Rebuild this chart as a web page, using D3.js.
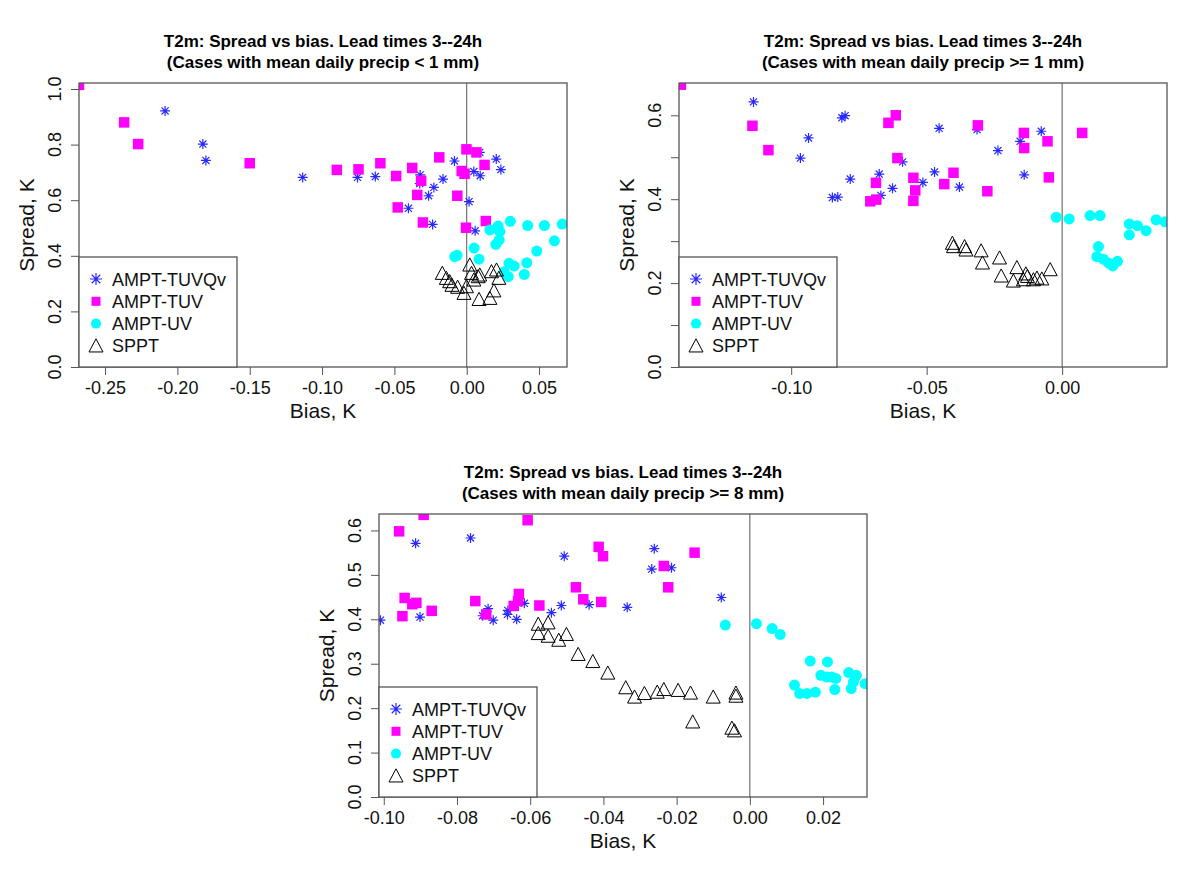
<!DOCTYPE html>
<html>
<head>
<meta charset="utf-8">
<style>
body { margin: 0; background: #fff; }
text { font-family: "Liberation Sans", Arial, sans-serif; }
</style>
</head>
<body>
<script src="https://d3js.org/d3.v7.min.js"></script>
<script>
// series names, legend order
var seriesNames = ["AMPT-TUVQv", "AMPT-TUV", "AMPT-UV", "SPPT"];

// panel 1: precip < 1 mm   [bias, spread]
var p1TUVQv = [[-0.2085,0.921],[-0.1824,0.802],[-0.1803,0.743],[-0.1134,0.682],[-0.0755,0.682],[-0.0632,0.685],
  [-0.0322,0.691],[-0.0325,0.660],[-0.0085,0.741],[-0.0164,0.676],[-0.0227,0.646],[-0.0264,0.616],[-0.0403,0.571],
  [-0.0236,0.513],[0.009,0.772],[0.0049,0.703],[0.0093,0.688],[0.0204,0.748],[0.0236,0.710],[0.0016,0.595],[0.0058,0.490]];
var p1TUV = [[-0.268,1.015],[-0.2368,0.880],[-0.2271,0.802],[-0.150,0.733],[-0.0898,0.709],[-0.0748,0.711],
  [-0.0597,0.733],[-0.0488,0.687],[-0.0377,0.716],[-0.0315,0.670],[-0.0342,0.619],[-0.0477,0.574],[-0.0303,0.520],
  [-0.0190,0.754],[-0.0065,0.616],[-0.0002,0.783],[0.0067,0.772],[-0.0035,0.705],[-0.0015,0.695],[0.0123,0.727],
  [-0.0005,0.501],[0.0132,0.525]];
var p1UV = [[-0.0083,0.397],[-0.0067,0.402],[0.0051,0.428],[0.0085,0.388],[0.016,0.493],[0.0217,0.507],[0.0229,0.487],
  [0.0224,0.457],[0.0201,0.441],[0.0301,0.524],[0.0421,0.509],[0.0537,0.509],[0.066,0.514],[0.0606,0.454],
  [0.0484,0.417],[0.0415,0.375],[0.0398,0.333],[0.0292,0.373],[0.0328,0.363],[0.0287,0.325],[0.0259,0.343]];
var p1SPPT = [[-0.0169,0.337],[-0.0141,0.319],[-0.0118,0.307],[-0.0102,0.294],[-0.0063,0.287],[-0.0019,0.265],
  [-0.0002,0.289],[0.0021,0.367],[0.0033,0.337],[0.0079,0.325],[0.009,0.331],[0.0085,0.243],[0.016,0.247],
  [0.0188,0.274],[0.0171,0.343],[0.0222,0.319],[0.0206,0.349],[0.0049,0.313]];

// panel 2: precip >= 1 mm
var p2TUVQv = [[-0.1139,0.632],[-0.0936,0.546],[-0.0966,0.498],[-0.0813,0.594],[-0.0801,0.599],[-0.0782,0.448],
  [-0.0848,0.404],[-0.0828,0.405],[-0.0675,0.460],[-0.0669,0.409],[-0.0626,0.426],[-0.0589,0.489],[-0.0454,0.569],
  [-0.0314,0.566],[-0.0237,0.516],[-0.0155,0.538],[-0.0077,0.562],[-0.0140,0.458],[-0.0471,0.465],[-0.0514,0.440],
  [-0.0379,0.429]];
var p2TUV = [[-0.1407,0.673],[-0.1143,0.575],[-0.1084,0.517],[-0.0641,0.582],[-0.0614,0.600],[-0.0608,0.498],
  [-0.0687,0.439],[-0.0708,0.395],[-0.0686,0.399],[-0.0549,0.451],[-0.0542,0.421],[-0.0549,0.396],[-0.0311,0.576],
  [-0.0141,0.558],[-0.0054,0.538],[-0.0140,0.522],[-0.0401,0.463],[-0.0435,0.436],[-0.0276,0.419],[-0.0049,0.452],
  [0.0074,0.558]];
var p2UV = [[-0.0022,0.357],[0.0026,0.353],[0.0103,0.361],[0.014,0.361],[0.0248,0.341],[0.0278,0.337],[0.031,0.325],
  [0.0248,0.315],[0.0347,0.351],[0.038,0.346],[0.0134,0.287],[0.0128,0.263],[0.0152,0.257],[0.0171,0.248],
  [0.0187,0.241],[0.0204,0.252]];
var p2SPPT = [[-0.0405,0.295],[-0.0401,0.287],[-0.0360,0.287],[-0.0355,0.279],[-0.0299,0.277],[-0.0294,0.248],
  [-0.0231,0.260],[-0.0225,0.217],[-0.0167,0.237],[-0.0180,0.205],[-0.0143,0.208],[-0.0134,0.222],[-0.0128,0.216],
  [-0.0093,0.212],[-0.0075,0.210],[-0.0044,0.232],[-0.0106,0.208]];

// panel 3: precip >= 8 mm
var p3TUVQv = [[-0.1009,0.398],[-0.0913,0.571],[-0.0763,0.583],[-0.0901,0.405],[-0.0715,0.424],[-0.0730,0.408],
  [-0.0701,0.398],[-0.0661,0.420],[-0.0662,0.411],[-0.0637,0.400],[-0.0616,0.436],[-0.0542,0.415],[-0.0515,0.431],
  [-0.0507,0.542],[-0.0439,0.433],[-0.0261,0.559],[-0.0268,0.513],[-0.0214,0.516],[-0.0078,0.449],[-0.0335,0.427]];
var p3TUV = [[-0.0891,0.635],[-0.0958,0.598],[-0.0607,0.623],[-0.0943,0.448],[-0.0922,0.434],[-0.0911,0.437],
  [-0.0949,0.407],[-0.0869,0.419],[-0.075,0.441],[-0.072,0.411],[-0.0631,0.457],[-0.0633,0.441],[-0.0645,0.430],
  [-0.0575,0.431],[-0.0413,0.563],[-0.0401,0.542],[-0.0475,0.472],[-0.0455,0.445],[-0.0406,0.439],[-0.0151,0.550],
  [-0.0235,0.520],[-0.0223,0.472]];
var p3UV = [[-0.0067,0.387],[0.0018,0.390],[0.0061,0.379],[0.0083,0.366],[0.0165,0.306],[0.0212,0.304],[0.0194,0.274],
  [0.0211,0.270],[0.0224,0.270],[0.0235,0.267],[0.027,0.280],[0.0291,0.274],[0.0283,0.259],[0.0315,0.255],
  [0.0122,0.252],[0.0136,0.233],[0.0156,0.233],[0.0179,0.236],[0.0232,0.242],[0.0277,0.244]];
var p3SPPT = [[-0.0578,0.389],[-0.0551,0.392],[-0.0578,0.368],[-0.0551,0.362],[-0.0522,0.353],[-0.0501,0.366],
  [-0.0469,0.321],[-0.0429,0.305],[-0.0388,0.279],[-0.0339,0.246],[-0.0315,0.225],[-0.0288,0.233],[-0.0253,0.236],
  [-0.0235,0.242],[-0.0196,0.240],[-0.0162,0.234],[-0.0100,0.225],[-0.0038,0.234],[-0.0038,0.227],[-0.0156,0.169],
  [-0.0049,0.155],[-0.0042,0.149]];

// tick values
var p1XTicks = [-0.25, -0.20, -0.15, -0.10, -0.05, 0.00, 0.05];
var p1YTicks = [0, 0.2, 0.4, 0.6, 0.8, 1.0];
var p2XTicks = [-0.10, -0.05, 0.00];
var p2YTicks = [0, 0.1, 0.2, 0.3, 0.4, 0.5, 0.6];
var p2YLabels = [0, 0.2, 0.4, 0.6];
var p3XTicks = [-0.10, -0.08, -0.06, -0.04, -0.02, 0.00, 0.02];
var p3YTicks = [0, 0.1, 0.2, 0.3, 0.4, 0.5, 0.6];

var titleLine1 = "T2m: Spread vs bias. Lead times 3--24h";
var subtitles = ["(Cases with mean daily precip < 1 mm)",
                 "(Cases with mean daily precip >= 1 mm)",
                 "(Cases with mean daily precip >= 8 mm)"];

var svg = d3.select("body").append("svg")
  .attr("width", 1200)
  .attr("height", 875);

var axisCol = "#555";

// R style numbers, plain hyphen for minus
function fmt(v, n) {
  var s = Math.abs(v).toFixed(n);
  return (v < 0 ? "-" : "") + s;
}

function starPath(r) {
  var a = r * 0.7071;
  return "M" + (-r) + ",0L" + r + ",0M0," + (-r) + "L0," + r +
    "M" + (-a) + "," + (-a) + "L" + a + "," + a + "M" + (-a) + "," + a + "L" + a + "," + (-a);
}
function triPath(s) {
  var h = s * 0.866;
  return "M0," + (-h / 2 - 1) + "L" + (s / 2) + "," + (h / 2) + "L" + (-s / 2) + "," + (h / 2) + "Z";
}

function drawMarker(g, kind, x, y, big) {
  if (kind == 0) {
    g.append("path").attr("transform", "translate(" + x + "," + y + ")")
      .attr("d", starPath(big ? 6 : 5)).attr("stroke", "#2828ff").attr("stroke-width", 1.2).attr("fill", "none");
  } else if (kind == 1) {
    var s = big ? 9 : 10.5;
    g.append("rect").attr("x", x - s / 2).attr("y", y - s / 2).attr("width", s).attr("height", s)
      .attr("fill", "#ff00ff");
  } else if (kind == 2) {
    g.append("circle").attr("cx", x).attr("cy", y).attr("r", big ? 5 : 5.5).attr("fill", "#00ffff");
  } else {
    g.append("path").attr("transform", "translate(" + x + "," + y + ")")
      .attr("d", triPath(14)).attr("fill", "none").attr("stroke", "#000").attr("stroke-width", 1);
  }
}

function drawPanel(p, idx) {
  var x = d3.scaleLinear().domain(p.xDomain).range([p.left, p.right]);
  var y = d3.scaleLinear().domain(p.yDomain).range([p.bottom, p.top]);
  var cx = (p.left + p.right) / 2;

  // title
  svg.append("text").attr("x", cx).attr("y", p.top - 36).attr("text-anchor", "middle")
    .attr("font-weight", "bold").attr("font-size", 17).text(titleLine1);
  svg.append("text").attr("x", cx).attr("y", p.top - 15).attr("text-anchor", "middle")
    .attr("font-weight", "bold").attr("font-size", 17).text(subtitles[idx]);

  // clip
  svg.append("clipPath").attr("id", "clip" + idx).append("rect")
    .attr("x", p.left).attr("y", p.top).attr("width", p.right - p.left).attr("height", p.bottom - p.top);

  // x axis
  var xa = svg.append("g").attr("transform", "translate(0," + p.bottom + ")")
    .call(d3.axisBottom(x).tickValues(p.xTicks).tickFormat(function(d) { return fmt(d, 2); })
      .tickSize(8).tickPadding(6));
  xa.select(".domain").remove();
  xa.selectAll("line").attr("stroke", axisCol);
  xa.selectAll("text").attr("font-size", 18).attr("fill", "#111")
    .attr("font-family", "Liberation Sans, Arial, sans-serif");

  // y axis
  var labelSet = p.yLabels || p.yTicks;
  var ya = svg.append("g").attr("transform", "translate(" + p.left + ",0)")
    .call(d3.axisLeft(y).tickValues(p.yTicks).tickSize(8).tickFormat(""));
  ya.select(".domain").remove();
  ya.selectAll("line").attr("stroke", axisCol);
  labelSet.forEach(function(v) {
    svg.append("text").attr("transform", "translate(" + (p.left - 18) + "," + y(v) + ") rotate(-90)")
      .attr("text-anchor", "middle").attr("font-size", 18).attr("fill", "#111").text(fmt(v, 1));
  });

  // axis titles
  svg.append("text").attr("x", cx).attr("y", p.bottom + 51).attr("text-anchor", "middle")
    .attr("font-size", 21).attr("fill", "#111").text("Bias, K");
  svg.append("text").attr("transform", "translate(" + (p.left - 45) + "," + ((p.top + p.bottom) / 2) + ") rotate(-90)")
    .attr("text-anchor", "middle").attr("font-size", 21).attr("fill", "#111").text("Spread, K");

  // zero line
  svg.append("line").attr("x1", x(0)).attr("x2", x(0)).attr("y1", p.top).attr("y2", p.bottom)
    .attr("stroke", axisCol).attr("stroke-width", 1);

  // points
  var g = svg.append("g").attr("clip-path", "url(#clip" + idx + ")");
  p.series.forEach(function(data, k) {
    data.forEach(function(d) { drawMarker(g, k, x(d[0]), y(d[1]), false); });
  });

  // frame
  svg.append("rect").attr("x", p.left).attr("y", p.top).attr("width", p.right - p.left)
    .attr("height", p.bottom - p.top).attr("fill", "none").attr("stroke", axisCol).attr("stroke-width", 1.3);

  // legend
  var lg = svg.append("g");
  lg.append("rect").attr("x", p.left).attr("y", p.bottom - 110).attr("width", 158).attr("height", 110)
    .attr("fill", "#fff").attr("stroke", axisCol).attr("stroke-width", 1.3);
  seriesNames.forEach(function(name, k) {
    var ly = p.bottom - 88 + k * 22.3;
    drawMarker(lg, k, p.left + 17, ly, true);
    lg.append("text").attr("x", p.left + 33).attr("y", ly + 6.5).attr("font-size", 18).attr("fill", "#111").text(name);
  });
}

var panels = [
  { left: 79, right: 567, top: 83, bottom: 367, xDomain: [-0.268, 0.0693], yDomain: [0, 1.0216],
    xTicks: p1XTicks, yTicks: p1YTicks, series: [p1TUVQv, p1TUV, p1UV, p1SPPT] },
  { left: 679, right: 1167, top: 83, bottom: 367, xDomain: [-0.1414, 0.0387], yDomain: [0, 0.677],
    xTicks: p2XTicks, yTicks: p2YTicks, yLabels: p2YLabels, series: [p2TUVQv, p2TUV, p2UV, p2SPPT] },
  { left: 379, right: 867, top: 514, bottom: 797, xDomain: [-0.1013, 0.032], yDomain: [0, 0.637],
    xTicks: p3XTicks, yTicks: p3YTicks, series: [p3TUVQv, p3TUV, p3UV, p3SPPT] }
];

panels.forEach(drawPanel);
</script>
</body>
</html>
